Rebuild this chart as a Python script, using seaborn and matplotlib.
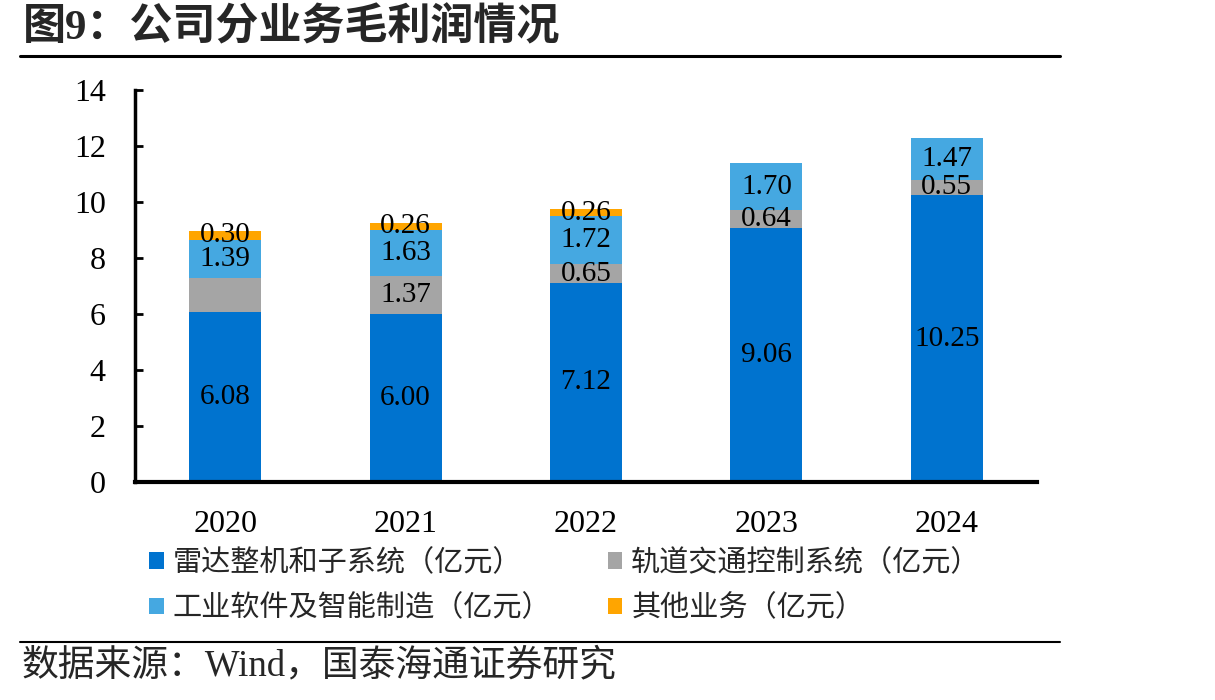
import matplotlib
matplotlib.use("Agg")
import matplotlib.pyplot as plt
import seaborn as sns
import pandas as pd
from matplotlib.lines import Line2D
from matplotlib.patches import Patch

# ---- data ----
years = ["2020", "2021", "2022", "2023", "2024"]
radar = [6.08, 6.00, 7.12, 9.06, 10.25]
rail = [1.19, 1.37, 0.65, 0.64, 0.55]
industrial = [1.39, 1.63, 1.72, 1.70, 1.47]
other = [0.30, 0.26, 0.26, 0.0, 0.0]
series_names = ["雷达整机和子系统（亿元）", "轨道交通控制系统（亿元）",
                "工业软件及智能制造（亿元）", "其他业务（亿元）"]
series_values = [radar, rail, industrial, other]
label_shown = [[True, True, True, True, True],
               [False, True, True, True, True],
               [True, True, True, True, True],
               [True, True, True, False, False]]
colors = ["#0073CF", "#A5A5A5", "#45A8E1", "#FFA500"]
title = "图9：公司分业务毛利润情况"
source = "数据来源：Wind，国泰海通证券研究"

sns.set_style("white")
plt.rcParams['font.family'] = ['Liberation Serif', 'Noto Sans CJK SC']
cjk = ['Noto Sans CJK SC', 'DejaVu Sans']
mixed = ['Liberation Serif', 'Noto Sans CJK SC']

W, H = 1215, 700
fig = plt.figure(figsize=(W / 100, H / 100), dpi=100)
ax = fig.add_axes([135 / W, 1 - 482 / H, (1037 - 135) / W, (482 - 90) / H])

bottom = [0.0] * len(years)
for name, vals, col, shown in zip(series_names, series_values, colors, label_shown):
    df = pd.DataFrame({"year": years, "value": vals})
    sns.barplot(data=df, x="year", y="value", order=years, color=col,
                width=0.4, bottom=bottom, ax=ax, saturation=1,
                errorbar=None, linewidth=0)
    cont = ax.containers[-1]
    labels = [f"{v:.2f}" if (s and v > 0) else "" for v, s in zip(vals, shown)]
    ax.bar_label(cont, labels=labels, label_type='center', fontsize=21,
                 color='black', family='Liberation Serif')
    bottom = [b + v for b, v in zip(bottom, vals)]

ax.set_xlim(-0.5, len(years) - 0.5)
ax.set_ylim(0, 14)
ax.set_yticks(range(0, 15, 2))
ax.set_xlabel("")
ax.set_ylabel("")
for s in ["top", "right"]:
    ax.spines[s].set_visible(False)
ax.spines["left"].set_linewidth(2.5)
ax.spines["bottom"].set_linewidth(3)
ax.spines["left"].set_color("black")
ax.spines["bottom"].set_color("black")
ax.tick_params(axis='y', direction='in', length=6, width=2, labelsize=23,
               pad=21, colors='black', left=True)
ax.tick_params(axis='x', length=0, labelsize=23, pad=20, colors='black')
for t in ax.get_xticklabels() + ax.get_yticklabels():
    t.set_family('Liberation Serif')

# legend
handles = [Patch(facecolor=c, edgecolor='none') for c in colors]
order = [0, 2, 1, 3]
fig.legend([handles[i] for i in order], [series_names[i] for i in order],
           ncol=2, loc='upper left', bbox_to_anchor=(149 / W, 1 - 548 / H),
           frameon=False, prop={'family': cjk, 'size': 21},
           handlelength=0.5, handleheight=0.5, handletextpad=0.3,
           columnspacing=1.95, labelspacing=0.52, borderpad=0, borderaxespad=0)

# title and source
fig.text(23 / W, 1 - 28 / H, title, fontsize=31, fontweight='bold',
         family=mixed, va='center', ha='left')
fig.add_artist(Line2D([20 / W, 1060 / W], [1 - 56 / H] * 2, color='black', lw=2.2))
fig.add_artist(Line2D([20 / W, 1060 / W], [1 - 642 / H] * 2, color='black', lw=1.5))
fig.text(22 / W, 1 - 666 / H, source, fontsize=26.5, family=mixed,
         va='center', ha='left')

fig.savefig("out.png", dpi=100)
